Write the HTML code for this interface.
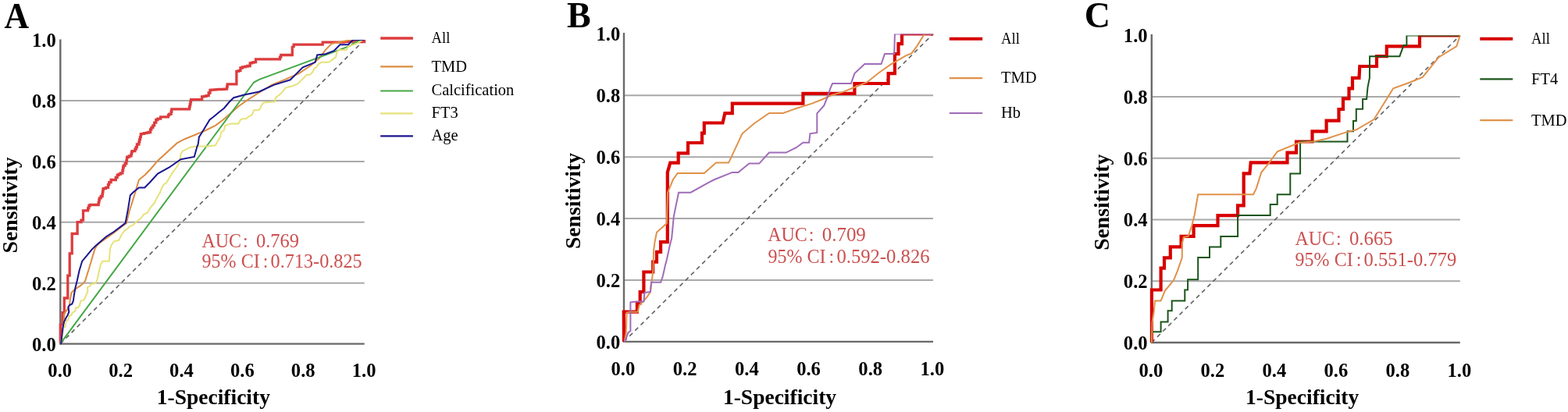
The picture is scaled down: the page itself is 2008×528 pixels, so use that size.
<!DOCTYPE html>
<html><head><meta charset="utf-8"><style>
html,body{margin:0;padding:0;background:#fff;}
svg{display:block;}
text{font-family:'Liberation Serif', 'Times New Roman', serif;}
</style></head><body>
<svg width="2008" height="528" viewBox="0 0 2008 528">
<defs><clipPath id="clipA"><rect x="71.3" y="51.1" width="397.4" height="397.5"/></clipPath><clipPath id="clipB"><rect x="793.0" y="43.4" width="404.0" height="402.5"/></clipPath><clipPath id="clipC"><rect x="1468.8" y="45.4" width="403.0" height="401.6"/></clipPath></defs>
<rect width="2008" height="528" fill="#fff"/>
<line x1="77.3" y1="362.7" x2="466.7" y2="362.7" stroke="#a9a9a9" stroke-width="2"/>
<line x1="77.3" y1="284.8" x2="466.7" y2="284.8" stroke="#a9a9a9" stroke-width="2"/>
<line x1="77.3" y1="206.9" x2="466.7" y2="206.9" stroke="#a9a9a9" stroke-width="2"/>
<line x1="77.3" y1="129.0" x2="466.7" y2="129.0" stroke="#a9a9a9" stroke-width="2"/>
<path d="M77.3,50.4 V440.6 H466.7" fill="none" stroke="#6a6a6a" stroke-width="2.4"/>
<text transform="translate(71.80,449.50) scale(1.0,1.065)" font-size="24.6" font-weight="bold" text-anchor="end" fill="#000">0.0</text>
<text transform="translate(76.70,483.30) scale(1.0,1.065)" font-size="24.6" font-weight="bold" text-anchor="middle" fill="#000">0.0</text>
<text transform="translate(71.80,371.60) scale(1.0,1.065)" font-size="24.6" font-weight="bold" text-anchor="end" fill="#000">0.2</text>
<text transform="translate(154.58,483.30) scale(1.0,1.065)" font-size="24.6" font-weight="bold" text-anchor="middle" fill="#000">0.2</text>
<text transform="translate(71.80,293.70) scale(1.0,1.065)" font-size="24.6" font-weight="bold" text-anchor="end" fill="#000">0.4</text>
<text transform="translate(232.46,483.30) scale(1.0,1.065)" font-size="24.6" font-weight="bold" text-anchor="middle" fill="#000">0.4</text>
<text transform="translate(71.80,215.80) scale(1.0,1.065)" font-size="24.6" font-weight="bold" text-anchor="end" fill="#000">0.6</text>
<text transform="translate(310.34,483.30) scale(1.0,1.065)" font-size="24.6" font-weight="bold" text-anchor="middle" fill="#000">0.6</text>
<text transform="translate(71.80,137.90) scale(1.0,1.065)" font-size="24.6" font-weight="bold" text-anchor="end" fill="#000">0.8</text>
<text transform="translate(388.22,483.30) scale(1.0,1.065)" font-size="24.6" font-weight="bold" text-anchor="middle" fill="#000">0.8</text>
<text transform="translate(71.80,60.00) scale(1.0,1.065)" font-size="24.6" font-weight="bold" text-anchor="end" fill="#000">1.0</text>
<text transform="translate(466.10,483.30) scale(1.0,1.065)" font-size="24.6" font-weight="bold" text-anchor="middle" fill="#000">1.0</text>
<text transform="translate(5.50,35.80) scale(0.95,1.0)" font-size="46" font-weight="bold" text-anchor="start" fill="#000">A</text>
<text transform="translate(22.40,262.89) rotate(-90)" font-size="27.7" font-weight="bold" text-anchor="middle">Sensitivity</text>
<text x="273.35" y="518.30" font-size="27.5" font-weight="bold" text-anchor="middle" fill="#000">1-Specificity</text>
<line x1="799.0" y1="359.0" x2="1195.0" y2="359.0" stroke="#a9a9a9" stroke-width="2"/>
<line x1="799.0" y1="280.1" x2="1195.0" y2="280.1" stroke="#a9a9a9" stroke-width="2"/>
<line x1="799.0" y1="201.2" x2="1195.0" y2="201.2" stroke="#a9a9a9" stroke-width="2"/>
<line x1="799.0" y1="122.3" x2="1195.0" y2="122.3" stroke="#a9a9a9" stroke-width="2"/>
<path d="M799.0,42.1 V437.9 H1195.0" fill="none" stroke="#6a6a6a" stroke-width="2.4"/>
<text transform="translate(794.20,446.80) scale(1.0,1.065)" font-size="24.6" font-weight="bold" text-anchor="end" fill="#000">0.0</text>
<text transform="translate(797.90,481.40) scale(1.0,1.065)" font-size="24.6" font-weight="bold" text-anchor="middle" fill="#000">0.0</text>
<text transform="translate(794.20,367.90) scale(1.0,1.065)" font-size="24.6" font-weight="bold" text-anchor="end" fill="#000">0.2</text>
<text transform="translate(877.10,481.40) scale(1.0,1.065)" font-size="24.6" font-weight="bold" text-anchor="middle" fill="#000">0.2</text>
<text transform="translate(794.20,289.00) scale(1.0,1.065)" font-size="24.6" font-weight="bold" text-anchor="end" fill="#000">0.4</text>
<text transform="translate(956.30,481.40) scale(1.0,1.065)" font-size="24.6" font-weight="bold" text-anchor="middle" fill="#000">0.4</text>
<text transform="translate(794.20,210.10) scale(1.0,1.065)" font-size="24.6" font-weight="bold" text-anchor="end" fill="#000">0.6</text>
<text transform="translate(1035.50,481.40) scale(1.0,1.065)" font-size="24.6" font-weight="bold" text-anchor="middle" fill="#000">0.6</text>
<text transform="translate(794.20,131.20) scale(1.0,1.065)" font-size="24.6" font-weight="bold" text-anchor="end" fill="#000">0.8</text>
<text transform="translate(1114.70,481.40) scale(1.0,1.065)" font-size="24.6" font-weight="bold" text-anchor="middle" fill="#000">0.8</text>
<text transform="translate(794.20,52.30) scale(1.0,1.065)" font-size="24.6" font-weight="bold" text-anchor="end" fill="#000">1.0</text>
<text transform="translate(1193.90,481.40) scale(1.0,1.065)" font-size="24.6" font-weight="bold" text-anchor="middle" fill="#000">1.0</text>
<text x="726.00" y="34.90" font-size="46" font-weight="bold" text-anchor="start" fill="#000">B</text>
<text transform="translate(743.20,257.54) rotate(-90)" font-size="27.7" font-weight="bold" text-anchor="middle">Sensitivity</text>
<text x="998.50" y="518.20" font-size="27.5" font-weight="bold" text-anchor="middle" fill="#000">1-Specificity</text>
<line x1="1474.8" y1="360.3" x2="1869.8" y2="360.3" stroke="#a9a9a9" stroke-width="2"/>
<line x1="1474.8" y1="281.6" x2="1869.8" y2="281.6" stroke="#a9a9a9" stroke-width="2"/>
<line x1="1474.8" y1="202.8" x2="1869.8" y2="202.8" stroke="#a9a9a9" stroke-width="2"/>
<line x1="1474.8" y1="124.1" x2="1869.8" y2="124.1" stroke="#a9a9a9" stroke-width="2"/>
<path d="M1474.8,44.0 V439.0 H1869.8" fill="none" stroke="#6a6a6a" stroke-width="2.4"/>
<text transform="translate(1469.60,447.90) scale(1.0,1.065)" font-size="24.6" font-weight="bold" text-anchor="end" fill="#000">0.0</text>
<text transform="translate(1473.90,483.00) scale(1.0,1.065)" font-size="24.6" font-weight="bold" text-anchor="middle" fill="#000">0.0</text>
<text transform="translate(1469.60,369.18) scale(1.0,1.065)" font-size="24.6" font-weight="bold" text-anchor="end" fill="#000">0.2</text>
<text transform="translate(1552.90,483.00) scale(1.0,1.065)" font-size="24.6" font-weight="bold" text-anchor="middle" fill="#000">0.2</text>
<text transform="translate(1469.60,290.46) scale(1.0,1.065)" font-size="24.6" font-weight="bold" text-anchor="end" fill="#000">0.4</text>
<text transform="translate(1631.90,483.00) scale(1.0,1.065)" font-size="24.6" font-weight="bold" text-anchor="middle" fill="#000">0.4</text>
<text transform="translate(1469.60,211.74) scale(1.0,1.065)" font-size="24.6" font-weight="bold" text-anchor="end" fill="#000">0.6</text>
<text transform="translate(1710.90,483.00) scale(1.0,1.065)" font-size="24.6" font-weight="bold" text-anchor="middle" fill="#000">0.6</text>
<text transform="translate(1469.60,133.02) scale(1.0,1.065)" font-size="24.6" font-weight="bold" text-anchor="end" fill="#000">0.8</text>
<text transform="translate(1789.90,483.00) scale(1.0,1.065)" font-size="24.6" font-weight="bold" text-anchor="middle" fill="#000">0.8</text>
<text transform="translate(1469.60,54.30) scale(1.0,1.065)" font-size="24.6" font-weight="bold" text-anchor="end" fill="#000">1.0</text>
<text transform="translate(1868.90,483.00) scale(1.0,1.065)" font-size="24.6" font-weight="bold" text-anchor="middle" fill="#000">1.0</text>
<text x="1388.80" y="34.70" font-size="46" font-weight="bold" text-anchor="start" fill="#000">C</text>
<text transform="translate(1420.00,259.29) rotate(-90)" font-size="27.7" font-weight="bold" text-anchor="middle">Sensitivity</text>
<text x="1667.65" y="518.20" font-size="27.5" font-weight="bold" text-anchor="middle" fill="#000">1-Specificity</text>
<g clip-path="url(#clipA)">
<line x1="77.3" y1="440.6" x2="466.7" y2="51.1" stroke="#606060" stroke-width="1.6" stroke-dasharray="5.5,4.6"/>
<polyline points="77.3,440.3 77.3,416.2 80.0,416.2 80.0,400.6 82.3,400.6 82.3,382.0 86.8,382.0 86.8,353.2 89.2,353.2 89.2,324.8 92.2,324.8 92.2,303.2 92.2,299.5 95.4,299.5 99.1,299.5 99.1,284.7 104.0,284.7 104.0,282.2 106.5,282.2 106.5,273.6 106.5,269.9 108.9,269.9 112.6,269.9 112.6,266.9 113.8,266.9 113.8,263.8 115.1,263.8 115.1,262.5 118.8,262.5 126.2,262.5 126.2,259.4 126.8,259.4 126.8,256.4 127.4,256.4 127.4,253.9 129.2,253.9 129.2,251.5 131.1,251.5 131.1,248.6 131.5,248.6 131.5,245.8 131.9,245.8 131.9,242.9 132.3,242.9 132.3,241.7 135.4,241.7 135.4,240.4 138.5,240.4 138.5,236.7 139.7,236.7 139.7,233.6 142.1,233.6 142.1,230.5 144.6,230.5 148.3,230.5 148.3,227.4 150.2,227.4 150.2,224.4 152.0,224.4 152.0,223.2 154.4,223.2 154.4,221.9 156.9,221.9 156.9,218.2 157.6,218.2 157.6,214.5 158.2,214.5 158.2,212.1 160.1,212.1 160.1,209.6 161.9,209.6 161.9,205.9 162.5,205.9 162.5,202.2 163.1,202.2 163.1,201.0 165.6,201.0 165.6,199.8 168.0,199.8 168.0,197.3 168.6,197.3 168.6,194.8 169.2,194.8 169.2,193.6 172.9,193.6 172.9,191.1 174.2,191.1 174.2,188.7 175.4,188.7 175.4,185.0 177.9,185.0 177.9,181.9 178.7,181.9 178.7,178.7 179.5,178.7 179.5,175.6 180.3,175.6 180.3,171.9 181.6,171.9 181.6,171.3 184.6,171.3 184.6,170.7 187.7,170.7 187.7,170.1 190.1,170.1 190.1,169.5 192.6,169.5 192.6,165.8 193.9,165.8 193.9,163.4 195.8,163.4 195.8,160.9 197.6,160.9 197.6,157.2 199.8,157.2 199.8,153.5 202.0,153.5 202.0,152.2 205.7,152.2 205.7,149.8 208.2,149.8 215.5,149.8 215.5,147.3 216.8,147.3 216.8,146.1 219.2,146.1 219.2,143.0 219.8,143.0 219.8,139.9 220.5,139.9 242.6,139.9 242.6,136.9 243.2,136.9 243.2,133.8 243.9,133.8 243.9,130.7 244.5,130.7 244.5,127.6 245.1,127.6 258.6,127.6 258.6,123.9 261.1,123.9 261.1,123.3 264.1,123.3 264.1,122.7 267.2,122.7 267.2,119.0 269.0,119.0 269.0,115.3 270.9,115.3 270.9,115.1 274.2,115.1 274.2,114.9 277.5,114.9 277.5,114.7 280.8,114.7 280.8,114.5 284.0,114.5 284.0,114.3 287.3,114.3 287.3,114.1 290.6,114.1 290.6,111.0 291.2,111.0 291.2,107.9 291.9,107.9 302.9,107.9 302.9,91.9 302.9,91.3 305.4,91.3 305.4,90.7 307.9,90.7 307.9,87.0 310.3,87.0 310.3,85.8 314.0,85.8 314.0,85.2 317.1,85.2 317.1,84.5 320.2,84.5 320.2,80.8 322.6,80.8 322.6,80.2 325.1,80.2 325.1,79.6 327.6,79.6 327.6,75.9 328.8,75.9 332.0,75.8 358.5,75.8 358.5,73.1 359.8,73.1 359.8,70.5 362.5,70.5 374.3,70.5 374.3,60.3 376.2,59.8 376.2,57.2 413.2,57.2 413.2,54.1 440.0,54.1 440.0,53.6 466.7,53.6 466.7,51.1" fill="none" stroke="#dc3c3e" stroke-width="3.3" stroke-linejoin="miter" stroke-linecap="butt"/>
<polyline points="77.3,440.3 79.0,432.0 80.5,420.0 82.7,401.4 85.1,398.2 87.5,394.2 89.1,390.2 89.9,383.9 91.5,375.1 94.7,371.9 97.9,369.5 102.6,366.4 107.4,362.4 109.0,360.0 113.9,344.5 121.2,319.9 123.7,315.0 128.6,310.6 145.9,298.2 161.9,285.9 165.5,271.2 171.7,251.5 177.9,230.5 185.2,224.4 192.6,217.0 202.0,205.9 226.6,183.4 236.5,178.2 251.2,172.2 263.5,167.0 275.9,160.9 285.7,153.5 295.5,144.9 305.4,136.2 317.7,127.6 332.0,118.5 347.9,108.9 363.8,102.3 382.4,94.4 398.3,83.8 408.9,74.5 416.9,63.9 424.8,55.9 438.1,53.3 449.5,51.1 466.7,51.1" fill="none" stroke="#dc8c40" stroke-width="2.0" stroke-linejoin="miter" stroke-linecap="butt"/>
<polyline points="77.3,440.3 325.1,105.5 332.0,101.8 448.7,58.6 454.0,54.6 464.6,51.1 466.7,51.1" fill="none" stroke="#45a845" stroke-width="2.0" stroke-linejoin="miter" stroke-linecap="butt"/>
<polyline points="77.3,440.3 78.0,439.5 80.4,426.8 81.2,418.9 83.5,418.9 84.3,414.1 85.1,410.9 87.5,410.1 88.3,405.3 89.9,404.5 91.5,403.7 92.3,401.4 93.1,400.6 94.7,399.8 96.3,398.2 97.1,394.2 100.2,394.2 101.8,391.8 103.4,385.5 107.4,384.7 109.0,381.5 110.6,377.5 112.2,374.3 112.2,368.0 115.4,366.4 117.0,364.0 121.7,363.2 123.3,361.6 124.9,356.9 128.6,339.6 131.1,334.7 139.7,334.7 140.9,319.9 142.2,315.0 145.9,309.3 152.0,308.1 155.7,300.7 159.4,295.8 163.1,293.3 166.8,289.6 170.5,288.4 175.4,283.5 180.3,279.8 184.0,274.9 188.9,272.4 192.6,266.2 197.6,260.1 202.0,251.5 204.5,247.8 206.9,241.6 209.4,236.7 213.1,234.2 216.8,228.1 220.5,221.9 224.2,217.0 227.8,212.1 230.3,204.7 231.5,197.3 234.0,193.6 238.9,191.2 243.9,188.7 251.2,187.5 266.0,187.5 275.9,186.2 278.3,181.8 282.0,175.6 283.2,169.5 286.9,167.0 288.2,160.9 291.9,159.6 295.5,158.4 305.4,158.4 307.9,153.5 310.3,152.2 315.2,152.2 317.7,149.8 322.6,147.3 325.1,141.2 332.0,140.8 334.7,135.5 337.3,131.5 351.9,130.2 353.2,124.9 358.5,120.9 362.5,116.9 365.1,112.9 374.4,110.3 381.1,107.6 385.0,103.6 389.0,99.7 393.0,95.7 397.0,95.7 400.9,91.7 402.3,87.7 404.9,86.4 407.6,82.4 411.6,79.8 420.8,79.8 424.8,77.1 430.1,73.1 431.4,66.5 434.1,63.9 443.4,63.9 446.0,59.9 448.7,58.6 456.6,55.9 464.6,51.1 466.7,51.1" fill="none" stroke="#e6e27a" stroke-width="2.0" stroke-linejoin="miter" stroke-linecap="butt"/>
<polyline points="77.3,440.3 78.0,440.3 78.8,434.8 79.6,426.8 80.4,420.5 82.0,412.5 84.3,407.7 86.7,403.7 88.3,399.8 87.5,393.4 89.1,391.0 92.3,389.4 93.9,385.5 94.7,379.1 96.3,369.5 98.7,360.0 101.5,347.0 105.2,334.7 111.4,327.3 117.5,319.9 122.5,315.0 136.0,303.2 145.9,297.0 160.6,285.9 164.3,266.2 166.8,250.2 170.5,246.5 177.9,240.4 185.2,240.4 192.6,233.0 202.0,222.5 216.8,214.5 231.5,204.2 248.8,201.0 252.5,187.5 253.7,185.0 254.9,175.6 261.1,165.8 268.5,153.5 273.4,149.8 280.8,143.6 286.9,138.7 293.1,131.3 299.2,125.2 312.8,121.5 325.1,119.0 332.0,117.5 350.6,108.9 371.8,102.3 379.7,94.4 387.7,86.4 403.6,79.8 406.2,70.5 416.9,69.2 427.5,65.2 435.4,57.2 446.0,57.2 449.0,54.0 452.0,51.1 466.7,51.1" fill="none" stroke="#1a1690" stroke-width="2.0" stroke-linejoin="miter" stroke-linecap="butt"/>
</g>
<g clip-path="url(#clipB)">
<line x1="799.0" y1="437.9" x2="1195.0" y2="43.4" stroke="#606060" stroke-width="1.6" stroke-dasharray="5.5,4.6"/>
<polyline points="799.0,437.9 798.8,399.7 815.9,399.7 815.9,388.3 819.7,388.3 819.7,374.1 824.4,374.1 824.4,348.5 836.2,348.5 836.2,335.7 841.0,335.7 841.0,322.9 846.1,322.9 846.1,310.1 854.8,310.1 854.8,220.9 858.3,208.6 868.7,208.6 868.7,196.3 881.0,196.3 881.0,183.0 899.0,183.0 899.0,170.7 901.8,170.7 901.8,157.5 925.5,157.5 928.3,145.2 937.8,145.2 937.8,132.6 1028.4,132.6 1028.4,119.8 1094.4,119.8 1094.4,107.0 1137.6,107.0 1137.6,94.1 1145.9,94.1 1145.9,69.1 1150.5,69.1 1150.5,56.2 1155.0,56.2 1155.0,43.4 1195.2,43.4" fill="none" stroke="#d80000" stroke-width="4.2" stroke-linejoin="miter" stroke-linecap="butt"/>
<polyline points="799.0,437.9 799.8,437.5 801.7,427.1 802.6,400.6 807.4,399.7 816.8,399.7 818.7,391.1 824.4,385.5 829.1,379.8 832.9,374.1 834.8,358.9 836.2,348.5 837.2,320.3 838.5,310.1 841.0,297.8 853.8,286.3 855.1,246.7 862.0,230.0 867.7,221.9 901.8,221.9 917.0,208.6 933.1,208.6 942.8,187.9 950.5,171.3 965.8,158.2 985.0,144.9 1002.9,144.9 1019.5,139.0 1039.9,132.6 1052.7,127.5 1065.0,122.0 1080.0,117.6 1095.2,111.5 1110.3,105.5 1125.5,93.3 1140.6,82.7 1160.0,71.4 1167.3,68.4 1174.9,58.1 1183.9,43.4 1192.8,43.4 1195.2,43.4" fill="none" stroke="#e0924a" stroke-width="2.0" stroke-linejoin="miter" stroke-linecap="butt"/>
<polyline points="799.0,437.9 800.7,436.6 804.5,426.2 807.4,424.3 807.4,387.3 814.9,386.4 824.4,386.4 825.4,375.0 832.9,374.1 833.9,361.8 846.2,361.8 849.0,353.3 851.9,340.0 853.8,333.1 857.6,315.2 860.2,305.0 862.8,277.4 869.1,246.7 884.5,246.7 907.5,233.9 915.1,230.0 937.8,220.9 945.3,221.1 959.4,209.6 972.2,209.6 985.0,195.6 1006.7,195.6 1019.5,189.2 1028.4,182.8 1036.1,182.8 1037.4,171.3 1046.3,170.0 1046.3,145.4 1055.3,135.2 1060.4,122.4 1063.0,114.0 1066.0,107.0 1089.8,107.0 1094.4,94.1 1107.3,82.0 1128.5,82.0 1133.0,69.1 1145.2,69.1 1145.9,43.4 1195.2,43.4" fill="none" stroke="#a06cb8" stroke-width="2.0" stroke-linejoin="miter" stroke-linecap="butt"/>
</g>
<g clip-path="url(#clipC)">
<line x1="1474.8" y1="439.0" x2="1869.8" y2="45.4" stroke="#606060" stroke-width="1.6" stroke-dasharray="5.5,4.6"/>
<polyline points="1474.9,439.1 1474.9,371.5 1486.6,371.5 1486.6,343.6 1491.0,343.6 1491.0,330.3 1498.8,330.3 1498.8,316.4 1512.6,316.4 1512.6,302.9 1528.6,302.9 1528.6,289.2 1559.5,289.2 1559.5,276.1 1585.1,276.1 1585.1,263.3 1592.7,263.3 1592.7,222.4 1600.4,222.4 1601.7,208.4 1648.5,208.4 1648.5,195.6 1660.0,195.6 1660.0,181.5 1680.5,181.5 1680.5,168.3 1698.6,168.3 1698.6,154.6 1714.5,154.6 1714.5,140.0 1720.0,140.0 1720.0,126.4 1727.5,126.4 1727.5,113.4 1732.0,113.4 1732.0,99.8 1740.5,99.8 1741.3,85.0 1763.0,85.0 1763.0,72.2 1775.8,72.2 1775.8,59.4 1818.0,59.4 1818.0,45.4 1869.8,45.4" fill="none" stroke="#d80000" stroke-width="4.2" stroke-linejoin="miter" stroke-linecap="butt"/>
<polyline points="1474.9,439.1 1474.9,425.2 1486.6,425.2 1486.6,412.4 1495.6,412.4 1495.6,398.3 1500.7,398.3 1500.7,385.5 1517.3,385.5 1517.3,371.5 1521.1,371.5 1521.1,358.2 1534.2,358.2 1534.2,330.0 1549.0,330.0 1549.0,316.4 1563.3,316.4 1563.3,303.0 1585.1,303.0 1585.1,276.1 1626.7,276.1 1626.7,262.0 1635.7,262.0 1635.7,249.3 1652.3,249.3 1652.3,222.4 1665.1,222.4 1665.1,181.5 1725.5,181.5 1725.5,168.2 1733.0,168.2 1733.0,154.9 1736.8,154.9 1736.8,139.8 1745.1,139.8 1745.1,127.0 1750.1,127.0 1751.5,111.8 1753.9,100.0 1754.1,72.2 1792.4,72.2 1797.5,58.1 1801.4,58.1 1801.4,45.4 1869.8,45.4" fill="none" stroke="#1a561a" stroke-width="2.0" stroke-linejoin="miter" stroke-linecap="butt"/>
<polyline points="1474.9,439.1 1475.6,412.4 1477.7,399.6 1479.0,385.5 1486.6,385.5 1491.7,372.8 1498.1,365.1 1503.2,358.7 1508.4,345.9 1513.8,330.0 1513.8,311.8 1516.0,303.9 1521.7,302.7 1526.3,289.1 1529.7,275.5 1534.2,249.3 1605.0,249.3 1608.8,241.6 1615.2,221.1 1625.5,208.4 1635.7,194.3 1663.8,182.8 1681.7,181.5 1698.9,177.7 1721.7,170.1 1736.8,166.3 1759.5,153.0 1784.2,113.3 1805.0,105.7 1821.8,99.0 1842.3,73.5 1865.3,59.4 1869.8,45.4" fill="none" stroke="#e0924a" stroke-width="2.0" stroke-linejoin="miter" stroke-linecap="butt"/>
</g>
<line x1="487.2" y1="49.0" x2="528.9" y2="49.0" stroke="#dc3c3e" stroke-width="3.4"/>
<text transform="translate(552.50,55.20) scale(0.91,1.04)" font-size="20.5" font-weight="normal" text-anchor="start" fill="#000">All</text>
<line x1="487.2" y1="85.3" x2="528.9" y2="85.3" stroke="#dc8c40" stroke-width="2.2"/>
<text transform="translate(552.50,91.60) scale(1.0,1.04)" font-size="20.5" font-weight="normal" text-anchor="start" fill="#000">TMD</text>
<line x1="487.2" y1="116.5" x2="528.9" y2="116.5" stroke="#45a845" stroke-width="2.2"/>
<text transform="translate(552.50,122.30) scale(1.0,1.04)" font-size="20.5" font-weight="normal" text-anchor="start" fill="#000">Calcification</text>
<line x1="487.2" y1="145.4" x2="528.9" y2="145.4" stroke="#e6e27a" stroke-width="2.2"/>
<text transform="translate(552.50,151.10) scale(1.0,1.04)" font-size="20.5" font-weight="normal" text-anchor="start" fill="#000">FT3</text>
<line x1="487.2" y1="174.4" x2="528.9" y2="174.4" stroke="#1a1690" stroke-width="2.2"/>
<text transform="translate(552.50,179.50) scale(1.0,1.04)" font-size="20.5" font-weight="normal" text-anchor="start" fill="#000">Age</text>
<line x1="1215.8" y1="49.7" x2="1258.2" y2="49.7" stroke="#d60000" stroke-width="4"/>
<text transform="translate(1282.00,56.20) scale(0.91,1.04)" font-size="20.5" font-weight="normal" text-anchor="start" fill="#000">All</text>
<line x1="1215.8" y1="100.1" x2="1258.2" y2="100.1" stroke="#e0924a" stroke-width="2.2"/>
<text transform="translate(1282.00,106.20) scale(1.0,1.04)" font-size="20.5" font-weight="normal" text-anchor="start" fill="#000">TMD</text>
<line x1="1215.8" y1="145.0" x2="1258.2" y2="145.0" stroke="#a06cb8" stroke-width="2.2"/>
<text transform="translate(1282.00,151.40) scale(1.0,1.04)" font-size="20.5" font-weight="normal" text-anchor="start" fill="#000">Hb</text>
<line x1="1895.3" y1="49.7" x2="1937.3" y2="49.7" stroke="#d60000" stroke-width="4"/>
<text transform="translate(1961.00,56.20) scale(0.91,1.04)" font-size="20.5" font-weight="normal" text-anchor="start" fill="#000">All</text>
<line x1="1895.3" y1="101.4" x2="1937.3" y2="101.4" stroke="#1a561a" stroke-width="2.2"/>
<text transform="translate(1961.00,107.70) scale(1.0,1.04)" font-size="20.5" font-weight="normal" text-anchor="start" fill="#000">FT4</text>
<line x1="1895.3" y1="154.2" x2="1937.3" y2="154.2" stroke="#e0924a" stroke-width="2.2"/>
<text transform="translate(1961.00,160.70) scale(1.0,1.04)" font-size="20.5" font-weight="normal" text-anchor="start" fill="#000">TMD</text>
<text transform="translate(258.40,316.70) scale(1.0,1.09)" font-size="24" font-weight="normal" text-anchor="start" fill="#cc5050">AUC</text>
<text transform="translate(310.90,316.70) scale(1.0,1.09)" font-size="24" font-weight="normal" text-anchor="start" fill="#cc5050">:</text>
<text transform="translate(327.90,316.70) scale(1.02,1.09)" font-size="24" font-weight="normal" text-anchor="start" fill="#cc5050">0.769</text>
<text transform="translate(258.60,343.20) scale(1.0,1.09)" font-size="24" font-weight="normal" text-anchor="start" fill="#cc5050">95%</text>
<text transform="translate(308.80,343.20) scale(1.0,1.09)" font-size="24" font-weight="normal" text-anchor="start" fill="#cc5050">CI</text>
<text transform="translate(336.80,343.20) scale(1.0,1.09)" font-size="24" font-weight="normal" text-anchor="start" fill="#cc5050">:</text>
<text transform="translate(346.60,343.20) scale(1.01,1.09)" font-size="24" font-weight="normal" text-anchor="start" fill="#cc5050">0.713-0.825</text>
<text transform="translate(983.20,309.30) scale(1.0,1.09)" font-size="24" font-weight="normal" text-anchor="start" fill="#cc5050">AUC</text>
<text transform="translate(1035.70,309.30) scale(1.0,1.09)" font-size="24" font-weight="normal" text-anchor="start" fill="#cc5050">:</text>
<text transform="translate(1052.70,309.30) scale(1.04,1.09)" font-size="24" font-weight="normal" text-anchor="start" fill="#cc5050">0.709</text>
<text transform="translate(983.40,337.00) scale(1.0,1.09)" font-size="24" font-weight="normal" text-anchor="start" fill="#cc5050">95%</text>
<text transform="translate(1033.60,337.00) scale(1.0,1.09)" font-size="24" font-weight="normal" text-anchor="start" fill="#cc5050">CI</text>
<text transform="translate(1061.60,337.00) scale(1.0,1.09)" font-size="24" font-weight="normal" text-anchor="start" fill="#cc5050">:</text>
<text transform="translate(1071.40,337.00) scale(1.028,1.09)" font-size="24" font-weight="normal" text-anchor="start" fill="#cc5050">0.592-0.826</text>
<text transform="translate(1658.40,313.50) scale(1.0,1.09)" font-size="24" font-weight="normal" text-anchor="start" fill="#cc5050">AUC</text>
<text transform="translate(1710.90,313.50) scale(1.0,1.09)" font-size="24" font-weight="normal" text-anchor="start" fill="#cc5050">:</text>
<text transform="translate(1727.90,313.50) scale(1.035,1.09)" font-size="24" font-weight="normal" text-anchor="start" fill="#cc5050">0.665</text>
<text transform="translate(1658.60,340.80) scale(1.0,1.09)" font-size="24" font-weight="normal" text-anchor="start" fill="#cc5050">95%</text>
<text transform="translate(1708.80,340.80) scale(1.0,1.09)" font-size="24" font-weight="normal" text-anchor="start" fill="#cc5050">CI</text>
<text transform="translate(1736.80,340.80) scale(1.0,1.09)" font-size="24" font-weight="normal" text-anchor="start" fill="#cc5050">:</text>
<text transform="translate(1746.60,340.80) scale(1.023,1.09)" font-size="24" font-weight="normal" text-anchor="start" fill="#cc5050">0.551-0.779</text>
</svg></body></html>
